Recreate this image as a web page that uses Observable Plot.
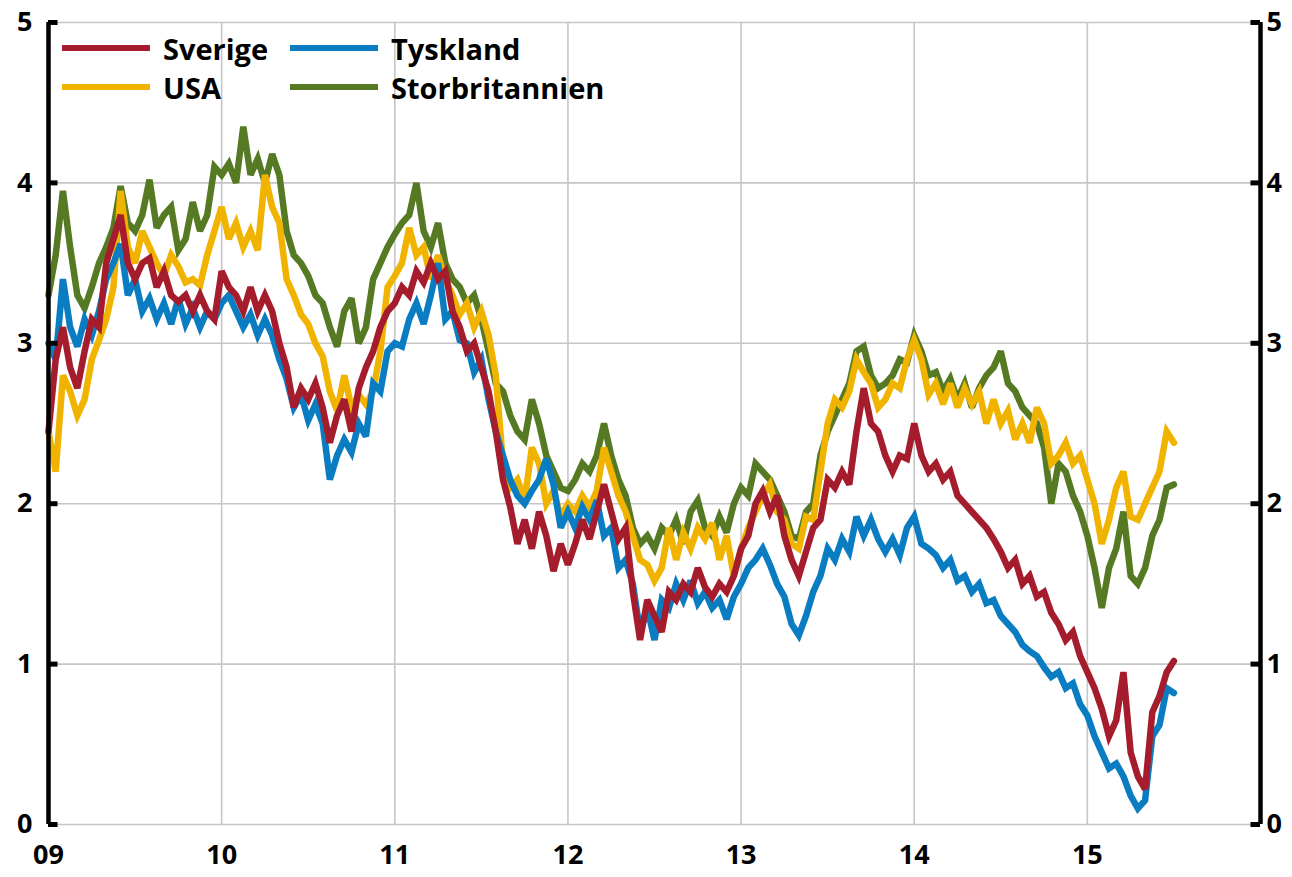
<!DOCTYPE html>
<html>
<head>
<meta charset="utf-8">
<script src="https://cdn.jsdelivr.net/npm/d3@7"></script>
<script src="https://cdn.jsdelivr.net/npm/@observablehq/plot@0.6"></script>
<style>
  html, body { margin: 0; padding: 0; background: #fff; }
  #wrap { position: relative; width: 1292px; height: 877px; overflow: hidden; }
  #legend { position: absolute; left: 0; top: 0; font-family: "Open Sans", sans-serif; font-weight: 700; font-size: 29px; color: #000; }
  .item { position: absolute; display: flex; align-items: center; height: 34px; }
  .sw { width: 88px; height: 6px; margin-right: 13px; }
</style>
</head>
<body>
<div id="wrap"><div id="legend"></div></div>
<script>
// Semi-monthly observations, 2009-01 .. 2015-07 (157 points)
const startYear = 2009;
const stepsPerYear = 24;

const seriesNames = ["Sverige", "Tyskland", "USA", "Storbritannien"];
const seriesColors = ["#a51d2d", "#0a7dc2", "#f0b400", "#567a23"];

const sverige = [
  2.45,2.9,3.1,2.85,2.72,2.95,3.15,3.1,3.5,3.65,3.8,3.5,3.4,3.5,3.53,3.35,3.45,3.3,3.26,3.3,3.2,3.3,3.2,3.15,
  3.45,3.35,3.3,3.2,3.35,3.2,3.3,3.2,3.0,2.85,2.6,2.72,2.65,2.75,2.6,2.38,2.55,2.65,2.45,2.72,2.85,2.95,3.1,3.2,
  3.25,3.35,3.3,3.45,3.38,3.5,3.4,3.45,3.2,3.1,2.95,3.0,2.85,2.7,2.45,2.15,1.98,1.75,1.9,1.72,1.95,1.8,1.58,1.75,
  1.62,1.75,1.9,1.78,1.95,2.12,1.95,1.78,1.85,1.45,1.15,1.4,1.3,1.2,1.45,1.4,1.5,1.45,1.6,1.48,1.42,1.5,1.45,1.55,
  1.72,1.8,2.0,2.08,1.95,2.05,1.8,1.65,1.55,1.7,1.85,1.9,2.15,2.1,2.2,2.12,2.45,2.72,2.5,2.45,2.3,2.2,2.3,2.28,
  2.5,2.3,2.2,2.25,2.15,2.2,2.05,2.0,1.95,1.9,1.85,1.78,1.7,1.6,1.65,1.5,1.55,1.42,1.45,1.32,1.25,1.15,1.2,1.05,
  0.95,0.85,0.72,0.55,0.65,0.95,0.45,0.3,0.22,0.7,0.8,0.95,1.02
];

const tyskland = [
  3.0,2.9,3.4,3.1,2.98,3.15,3.05,3.2,3.4,3.5,3.62,3.3,3.4,3.2,3.28,3.15,3.25,3.12,3.28,3.12,3.22,3.1,3.2,3.15,
  3.25,3.3,3.2,3.1,3.18,3.05,3.15,3.05,2.9,2.78,2.6,2.68,2.52,2.62,2.5,2.15,2.3,2.4,2.32,2.5,2.42,2.75,2.7,2.95,
  3.0,2.98,3.15,3.25,3.12,3.3,3.5,3.15,3.2,3.02,3.0,2.82,2.9,2.65,2.45,2.3,2.15,2.05,2.0,2.08,2.15,2.28,2.12,1.85,
  1.95,1.85,1.98,1.9,2.02,1.8,1.85,1.6,1.65,1.5,1.2,1.35,1.15,1.4,1.35,1.5,1.4,1.52,1.38,1.45,1.35,1.4,1.28,1.42,
  1.5,1.6,1.65,1.72,1.62,1.5,1.42,1.25,1.18,1.3,1.45,1.55,1.72,1.65,1.78,1.7,1.92,1.8,1.9,1.78,1.7,1.78,1.68,1.85,
  1.92,1.75,1.72,1.68,1.6,1.65,1.52,1.55,1.45,1.5,1.38,1.4,1.3,1.25,1.2,1.12,1.08,1.05,0.98,0.92,0.95,0.85,0.88,0.75,
  0.68,0.55,0.45,0.35,0.38,0.3,0.18,0.1,0.15,0.55,0.62,0.85,0.82
];

const usa = [
  2.45,2.2,2.8,2.7,2.55,2.65,2.9,3.02,3.15,3.35,3.95,3.6,3.5,3.7,3.6,3.5,3.42,3.55,3.48,3.38,3.4,3.36,3.55,3.7,
  3.85,3.65,3.75,3.6,3.7,3.58,4.05,3.85,3.75,3.4,3.3,3.18,3.12,3.0,2.92,2.7,2.58,2.8,2.6,2.68,2.62,2.7,2.95,3.35,
  3.42,3.5,3.72,3.55,3.6,3.4,3.55,3.4,3.3,3.18,3.25,3.1,3.2,3.05,2.8,2.25,2.1,2.15,2.02,2.35,2.25,2.0,2.08,1.92,
  2.0,1.95,2.05,1.98,2.08,2.35,2.2,2.05,1.95,1.8,1.65,1.62,1.52,1.6,1.85,1.65,1.82,1.72,1.85,1.78,1.88,1.65,1.8,1.55,
  1.72,1.85,1.95,2.05,2.12,1.95,1.9,1.75,1.72,1.92,1.9,2.2,2.5,2.65,2.6,2.7,2.9,2.82,2.75,2.6,2.65,2.75,2.72,2.9,
  3.02,2.9,2.68,2.75,2.62,2.75,2.6,2.72,2.62,2.7,2.5,2.65,2.5,2.58,2.4,2.5,2.38,2.6,2.5,2.25,2.3,2.38,2.25,2.3,
  2.15,2.0,1.75,1.9,2.1,2.2,1.92,1.9,2.0,2.1,2.2,2.45,2.38
];

const storbritannien = [
  3.3,3.55,3.95,3.6,3.3,3.22,3.35,3.5,3.6,3.72,3.98,3.75,3.7,3.8,4.02,3.72,3.8,3.85,3.58,3.65,3.88,3.7,3.8,4.1,
  4.05,4.12,4.0,4.35,4.05,4.15,4.0,4.18,4.05,3.7,3.55,3.5,3.42,3.3,3.25,3.1,2.98,3.2,3.28,3.0,3.1,3.4,3.5,3.6,
  3.68,3.75,3.8,4.0,3.7,3.6,3.75,3.5,3.4,3.35,3.25,3.3,3.15,2.95,2.75,2.7,2.55,2.45,2.4,2.65,2.5,2.3,2.2,2.1,
  2.08,2.15,2.25,2.2,2.3,2.5,2.3,2.15,2.05,1.85,1.75,1.8,1.72,1.85,1.8,1.9,1.75,1.95,2.02,1.85,1.8,1.92,1.82,2.0,
  2.1,2.05,2.25,2.2,2.15,2.05,1.95,1.8,1.78,1.95,2.0,2.3,2.45,2.55,2.65,2.75,2.95,2.98,2.8,2.72,2.75,2.8,2.9,2.88,
  3.05,2.95,2.8,2.82,2.7,2.78,2.65,2.75,2.6,2.72,2.8,2.85,2.95,2.75,2.7,2.6,2.55,2.5,2.35,2.0,2.25,2.2,2.05,1.95,
  1.8,1.6,1.35,1.6,1.72,1.95,1.55,1.5,1.6,1.8,1.9,2.1,2.12
];

const yearTicks = [2009, 2010, 2011, 2012, 2013, 2014, 2015, 2016];
const xLabelTicks = [2009, 2010, 2011, 2012, 2013, 2014, 2015];
const yTicks = [0, 1, 2, 3, 4, 5];

const valuesByName = {Sverige: sverige, Tyskland: tyskland, USA: usa, Storbritannien: storbritannien};
const rows = [];
for (const name of seriesNames) {
  valuesByName[name].forEach((v, i) => rows.push({name, t: startYear + i / stepsPerYear, v}));
}
const colorOf = Object.fromEntries(seriesNames.map((n, i) => [n, seriesColors[i]]));
const drawOrder = ["Storbritannien", "USA", "Tyskland", "Sverige"];

const xMin = 2009, xMax = 2016, tickLen = 0.055;
const font = "Open Sans, sans-serif";

const chart = Plot.plot({
  width: 1292,
  height: 877,
  marginLeft: 48,
  marginRight: 32,
  marginTop: 22,
  marginBottom: 53,
  x: {domain: [xMin, xMax]},
  y: {domain: [0, 5]},
  style: {fontFamily: font, background: "#fff", color: "#000", overflow: "visible"},
  marks: [
    Plot.gridX(yearTicks, {stroke: "#c6c6c6", strokeOpacity: 1, strokeWidth: 1.6}),
    Plot.gridY(yTicks, {stroke: "#c6c6c6", strokeOpacity: 1, strokeWidth: 1.6}),
    ...drawOrder.map(name => Plot.line(rows.filter(d => d.name === name), {
      x: "t", y: "v", stroke: colorOf[name], strokeWidth: 6.5, strokeLinejoin: "miter", strokeMiterlimit: 3
    })),
    Plot.ruleX([xMin, xMax], {stroke: "#000", strokeWidth: 4.5}),
    Plot.ruleY(yTicks, {x1: xMin, x2: xMin + tickLen, stroke: "#000", strokeWidth: 5}),
    Plot.ruleY(yTicks, {x1: xMax - tickLen, x2: xMax, stroke: "#000", strokeWidth: 5}),
    Plot.axisX(xLabelTicks, {tickSize: 0, tickPadding: 20, fontSize: 27, fontWeight: "bold",
      tickFormat: d => String(d % 100).padStart(2, "0"), label: null}),
    Plot.axisY(yTicks, {anchor: "left", tickSize: 0, tickPadding: 16, fontSize: 27, fontWeight: "bold",
      tickFormat: d => String(d), label: null}),
    Plot.axisY(yTicks, {anchor: "right", tickSize: 0, tickPadding: 6, fontSize: 27, fontWeight: "bold",
      tickFormat: d => String(d), label: null})
  ]
});
document.getElementById("wrap").prepend(chart);

// Legend (2 x 2)
const legend = document.getElementById("legend");
const legendPos = {Sverige: [62, 31], USA: [62, 70], Tyskland: [290, 31], Storbritannien: [290, 70]};
for (const name of seriesNames) {
  const [l, t] = legendPos[name];
  const it = document.createElement("div");
  it.className = "item";
  it.style.left = l + "px";
  it.style.top = t + "px";
  const sw = document.createElement("span");
  sw.className = "sw";
  sw.style.background = colorOf[name];
  const tx = document.createElement("span");
  tx.textContent = name;
  it.append(sw, tx);
  legend.append(it);
}
</script>
</body>
</html>
